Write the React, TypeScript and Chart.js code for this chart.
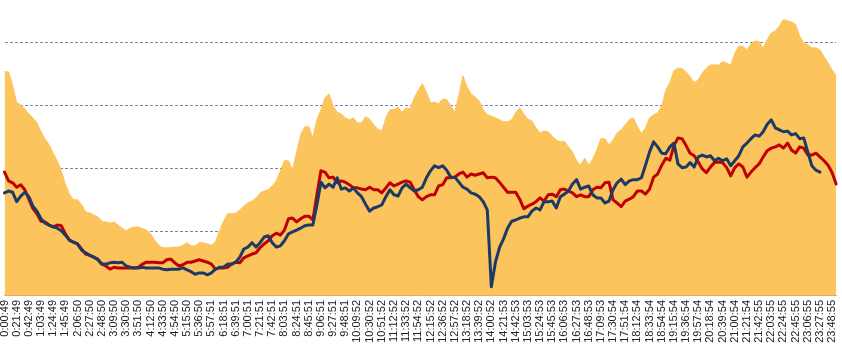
import React, { useEffect, useRef } from "react";
import { Chart, registerables } from "chart.js";

Chart.register(...registerables);

// Visible time tick labels (every 21 minutes)
const tickLabels = [
  "0:00:49", "0:21:49", "0:42:49", "1:03:49", "1:24:49", "1:45:49", "2:06:50", "2:27:50", "2:48:50", "3:09:50",
  "3:30:50", "3:51:50", "4:12:50", "4:33:50", "4:54:50", "5:15:50", "5:36:50", "5:57:51", "6:18:51", "6:39:51",
  "7:00:51", "7:21:51", "7:42:51", "8:03:51", "8:24:51", "8:45:51", "9:06:51", "9:27:51", "9:48:51", "10:09:52",
  "10:30:52", "10:51:52", "11:12:52", "11:33:52", "11:54:52", "12:15:52", "12:36:52", "12:57:52", "13:18:52", "13:39:52",
  "14:00:52", "14:21:53", "14:42:53", "15:03:53", "15:24:53", "15:45:53", "16:06:53", "16:27:53", "16:48:53", "17:09:53",
  "17:30:54", "17:51:54", "18:12:54", "18:33:54", "18:54:54", "19:15:54", "19:36:54", "19:57:54", "20:18:54", "20:39:54",
  "21:00:54", "21:21:54", "21:42:55", "22:03:55", "22:24:55", "22:45:55", "23:06:55", "23:27:55", "23:48:55",
];

// Samples every 7 minutes (3 samples per labelled interval)
const areaSeries = [
  354, 354, 333, 305, 302, 295, 287, 281, 273, 259,
  248, 238, 225, 213, 197, 176, 160, 151, 151, 143,
  132, 130, 127, 124, 117, 116, 114, 116, 111, 106,
  102, 106, 108, 108, 105, 103, 97, 87, 79, 75,
  75, 75, 76, 76, 79, 83, 78, 78, 83, 83,
  81, 79, 84, 102, 117, 129, 129, 130, 135, 141,
  146, 149, 154, 162, 165, 167, 173, 181, 197, 213,
  213, 198, 227, 254, 267, 267, 249, 278, 294, 313,
  319, 300, 290, 287, 281, 278, 281, 273, 273, 283,
  279, 270, 263, 260, 281, 294, 294, 298, 290, 297,
  295, 313, 325, 335, 322, 305, 306, 303, 311, 310,
  300, 290, 317, 348, 330, 319, 314, 308, 294, 286,
  284, 281, 278, 275, 275, 278, 289, 297, 287, 279,
  276, 265, 257, 260, 259, 252, 246, 243, 244, 235,
  227, 213, 206, 217, 206, 216, 230, 248, 248, 238,
  246, 257, 262, 270, 278, 281, 267, 256, 265, 281,
  286, 289, 300, 325, 337, 356, 360, 359, 354, 346,
  337, 341, 352, 360, 365, 365, 365, 370, 368, 365,
  383, 395, 394, 389, 398, 403, 402, 392, 405, 416,
  419, 427, 437, 435, 433, 429, 411, 400, 397, 392,
  392, 389, 378, 368, 357, 348,
];

const redSeries = [
  195, 181, 178, 171, 175, 167, 152, 137, 129, 117,
  116, 111, 108, 111, 110, 97, 87, 84, 81, 73,
  65, 63, 60, 56, 49, 46, 41, 44, 43, 43,
  43, 43, 43, 44, 49, 52, 52, 52, 51, 51,
  56, 57, 51, 46, 48, 52, 52, 54, 56, 54,
  52, 49, 41, 43, 43, 44, 49, 52, 51, 59,
  62, 65, 67, 75, 81, 86, 94, 98, 95, 103,
  121, 122, 116, 121, 125, 125, 119, 159, 197, 195,
  186, 187, 178, 181, 179, 175, 170, 170, 168, 167,
  171, 167, 167, 162, 170, 178, 173, 176, 179, 181,
  179, 167, 156, 151, 156, 159, 159, 173, 175, 186,
  186, 187, 192, 195, 187, 192, 190, 192, 194, 186,
  187, 186, 179, 171, 163, 163, 163, 152, 137, 141,
  144, 148, 154, 149, 159, 160, 156, 167, 168, 165,
  162, 156, 159, 156, 156, 167, 171, 170, 178, 179,
  151, 146, 140, 149, 152, 156, 165, 165, 160, 168,
  187, 192, 206, 217, 214, 237, 249, 248, 237, 225,
  221, 211, 200, 194, 203, 210, 211, 210, 202, 189,
  202, 208, 203, 187, 195, 202, 208, 219, 229, 233,
  235, 238, 233, 241, 230, 225, 235, 233, 222, 222,
  225, 219, 213, 206, 194, 176,
];

const blueSeries = [
  162, 165, 163, 148, 157, 163, 156, 141, 133, 121,
  114, 111, 108, 106, 102, 95, 87, 84, 81, 71,
  67, 63, 60, 57, 49, 49, 51, 52, 51, 52,
  46, 44, 43, 43, 44, 43, 43, 43, 43, 41,
  40, 41, 41, 41, 43, 40, 37, 33, 35, 35,
  32, 35, 41, 44, 44, 49, 49, 52, 60, 73,
  76, 83, 76, 83, 92, 94, 83, 76, 78, 86,
  97, 100, 103, 106, 110, 111, 111, 143, 179, 170,
  176, 171, 186, 168, 170, 165, 170, 162, 156, 144,
  133, 138, 140, 143, 156, 167, 159, 157, 170, 176,
  170, 165, 167, 171, 186, 197, 205, 202, 205, 198,
  187, 187, 179, 171, 168, 162, 160, 156, 148, 135,
  13, 52, 75, 89, 106, 117, 119, 122, 124, 124,
  133, 138, 135, 148, 148, 149, 138, 156, 160, 165,
  176, 183, 168, 171, 173, 159, 154, 154, 146, 149,
  167, 178, 184, 175, 181, 183, 183, 186, 206, 227,
  243, 235, 225, 224, 235, 241, 208, 202, 203, 210,
  203, 219, 222, 219, 221, 213, 217, 213, 216, 205,
  213, 221, 235, 241, 248, 254, 252, 259, 271, 278,
  265, 262, 259, 260, 254, 256, 248, 249, 227, 205,
  198, 195, null, null, null, null,
];

const SAMPLES_PER_TICK = 3;
const Y_MAX = 468;
const Y_STEP = 100;

export default function App() {
  const canvasRef = useRef<HTMLCanvasElement | null>(null);

  useEffect(() => {
    const canvas = canvasRef.current;
    if (!canvas) return;
    const labels = areaSeries.map((_, i) =>
      i % SAMPLES_PER_TICK === 0 ? tickLabels[i / SAMPLES_PER_TICK] ?? "" : ""
    );
    const chart = new Chart(canvas, {
      type: "line",
      data: {
        labels,
        datasets: [
          {
            label: "Blue",
            data: blueSeries,
            borderColor: "#1C3A66",
            borderWidth: 3,
            borderJoinStyle: "round",
            borderCapStyle: "round",
            pointRadius: 0,
            fill: false,
            tension: 0,
            spanGaps: false,
          },
          {
            label: "Red",
            data: redSeries,
            borderColor: "#C00000",
            borderWidth: 3,
            borderJoinStyle: "round",
            borderCapStyle: "round",
            pointRadius: 0,
            fill: false,
            tension: 0,
          },
          {
            label: "Area",
            data: areaSeries,
            borderColor: "#FCC45C",
            backgroundColor: "#FCC45C",
            borderWidth: 1,
            pointRadius: 0,
            fill: "origin",
            tension: 0,
          },
        ],
      },
      options: {
        animation: false,
        responsive: false,
        events: [],
        layout: { padding: 0 },
        plugins: {
          legend: { display: false },
          tooltip: { enabled: false },
          title: { display: false },
        },
        scales: {
          x: {
            type: "category",
            offset: false,
            grid: { display: false, drawTicks: false },
            border: { display: true, color: "#E0B060", width: 1 },
            ticks: {
              autoSkip: false,
              maxRotation: 90,
              minRotation: 90,
              padding: 5,
              color: "#222222",
              font: { family: "'Liberation Sans', Arial, sans-serif", size: 11 },
            },
            afterFit: (scale: any) => {
              scale.height = 53;
              scale.paddingLeft = 4.5;
              scale.paddingRight = 5.8;
            },
          },
          y: {
            min: 0,
            max: Y_MAX,
            ticks: { display: false, stepSize: Y_STEP },
            border: { display: false, dash: [3, 2] },
            grid: {
              drawTicks: false,
              lineWidth: 1,
              color: (ctx: any) =>
                ctx.tick && ctx.tick.value > 0 && ctx.tick.value % Y_STEP === 0
                  ? "#7386B4"
                  : "rgba(0,0,0,0)",
            },
            afterFit: (scale: any) => {
              scale.width = 0;
            },
          },
        },
      },
    });
    return () => chart.destroy();
  }, []);

  return (
    <div style={{ position: "fixed", left: 0, top: 0, width: 842, height: 348, background: "#fff" }}>
      <canvas ref={canvasRef} width={842} height={348} style={{ display: "block" }} />
    </div>
  );
}
